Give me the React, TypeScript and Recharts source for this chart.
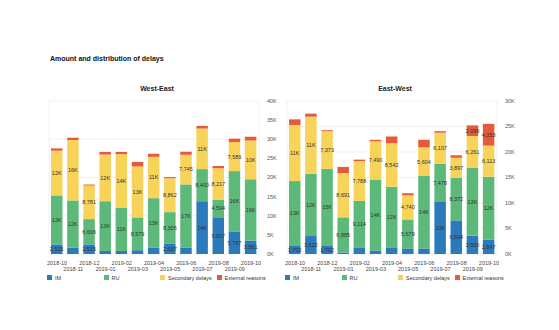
import { BarChart, Bar, XAxis, YAxis, CartesianGrid, LabelList } from 'recharts';

const months = ['2018-10', '2018-11', '2018-12', '2019-01', '2019-02', '2019-03', '2019-04', '2019-05', '2019-06', '2019-07', '2019-08', '2019-09', '2019-10'];

// West-East
const weIM = [2515, 1700, 2515, 800, 800, 1000, 1600, 2637, 1600, 13800, 9607, 5767, 3561];
const weRU = [12800, 12300, 6606, 13000, 11300, 8579, 13000, 8305, 16600, 8400, 4594, 15900, 16000];
const weSec = [11700, 15800, 8781, 12200, 14000, 13300, 10800, 8862, 7745, 10600, 8217, 7589, 10100];
const weExt = [600, 600, 250, 700, 600, 1200, 800, 300, 800, 700, 600, 900, 1000];

// East-West
const ewIM = [1702, 3522, 1702, 300, 1300, 700, 1300, 1100, 1100, 10200, 6594, 3560, 2847];
const ewRU = [12600, 12200, 15000, 6885, 9114, 13900, 11900, 5679, 14200, 7478, 8372, 13300, 12300];
const ewSec = [11000, 11200, 7373, 8691, 7788, 7490, 8542, 4740, 5604, 6107, 3897, 6261, 6113];
const ewExt = [1100, 600, 200, 1200, 300, 300, 1300, 400, 1500, 300, 500, 2099, 4253];

const weTicks = [0, 5000, 10000, 15000, 20000, 25000, 30000, 35000, 40000];
const ewTicks = [0, 5000, 10000, 15000, 20000, 25000, 30000];

const series = [
  { key: 'IM', name: 'IM', color: '#2b7bba' },
  { key: 'RU', name: 'RU', color: '#5cb97a' },
  { key: 'Sec', name: 'Secondary delays', color: '#f7d35a' },
  { key: 'Ext', name: 'External reasons', color: '#e65a3c' },
];

const FONT = '"Liberation Sans", Arial, sans-serif';

const build = (im: number[], ru: number[], sec: number[], ext: number[]) =>
  months.map((m, i) => ({ month: m, IM: im[i], RU: ru[i], Sec: sec[i], Ext: ext[i] }));

const fmt = (v: number) => (v >= 10000 ? `${Math.round(v / 1000)}K` : v.toLocaleString('en-US'));

const renderLabel = (props: any) => {
  const { x, y, width, height, value } = props;
  if (height == null || height < 8) return null;
  return (
    <text x={x + width / 2} y={y + height / 2} dy="0.35em" textAnchor="middle" fontSize={5.5} fill="#333" fontFamily={FONT}>
      {fmt(value)}
    </text>
  );
};

const MonthTick = (props: any) => {
  const { x, y, payload } = props;
  const odd = payload.index % 2 === 1;
  return (
    <text x={x} y={y + (odd ? 8.5 : 2.5)} textAnchor="middle" fontSize={5.5} fill="#444" fontFamily={FONT}>
      {payload.value}
    </text>
  );
};

function DelayChart({ title, data, ticks, left, marginLeft, titleX }: { title: string; data: any[]; ticks: number[]; left: number; marginLeft: number; titleX: number }) {
  const max = ticks[ticks.length - 1];
  return (
    <>
      <div style={{ position: 'absolute', left: titleX - 40, width: 80, top: 85, textAlign: 'center', fontSize: 7, fontWeight: 'bold', color: '#222' }}>
        {title}
      </div>
      <div style={{ position: 'absolute', left, top: 90 }}>
        <BarChart width={marginLeft + 210 + 22} height={184} data={data} margin={{ top: 11, right: 2, left: marginLeft, bottom: 0 }} barSize={11.5}>
          <CartesianGrid
            stroke="#e8e8e8"
            strokeWidth={0.6}
            verticalCoordinatesGenerator={({ offset }: any) => [offset.left, offset.left + offset.width]}
          />
          <XAxis dataKey="month" interval={0} tickLine={false} axisLine={false} height={20} tick={<MonthTick />} />
          <YAxis
            orientation="right"
            domain={[0, max]}
            ticks={ticks}
            width={20}
            tickLine={false}
            axisLine={false}
            tick={{ fontSize: 5.5, fill: '#555', fontFamily: FONT }}
            tickFormatter={(v: number) => `${v / 1000}K`}
          />
          {series.map((s) => (
            <Bar key={s.key} dataKey={s.key} stackId="a" fill={s.color} isAnimationActive={false}>
              <LabelList dataKey={s.key} content={renderLabel} />
            </Bar>
          ))}
        </BarChart>
      </div>
      <div style={{ position: 'absolute', left: left + marginLeft - 2, top: 274.5, display: 'flex' }}>
        {series.map((s) => (
          <div key={s.key} style={{ width: 56.5, display: 'flex', alignItems: 'center', fontSize: 5.5, color: '#333' }}>
            <span style={{ display: 'inline-block', width: 5, height: 5, background: s.color, marginRight: 3 }} />
            {s.name}
          </div>
        ))}
      </div>
    </>
  );
}

export default function App() {
  return (
    <div style={{ position: 'absolute', left: 0, top: 0, width: 559, height: 330, background: '#fff', fontFamily: FONT, overflow: 'hidden' }}>
      <div style={{ position: 'absolute', left: 50, top: 55, fontSize: 7, fontWeight: 'bold', color: '#111' }}>
        Amount and distribution of delays
      </div>
      <DelayChart title="West-East" data={build(weIM, weRU, weSec, weExt)} ticks={weTicks} left={0} marginLeft={49} titleX={157} />
      <DelayChart title="East-West" data={build(ewIM, ewRU, ewSec, ewExt)} ticks={ewTicks} left={280} marginLeft={7} titleX={395} />
    </div>
  );
}
